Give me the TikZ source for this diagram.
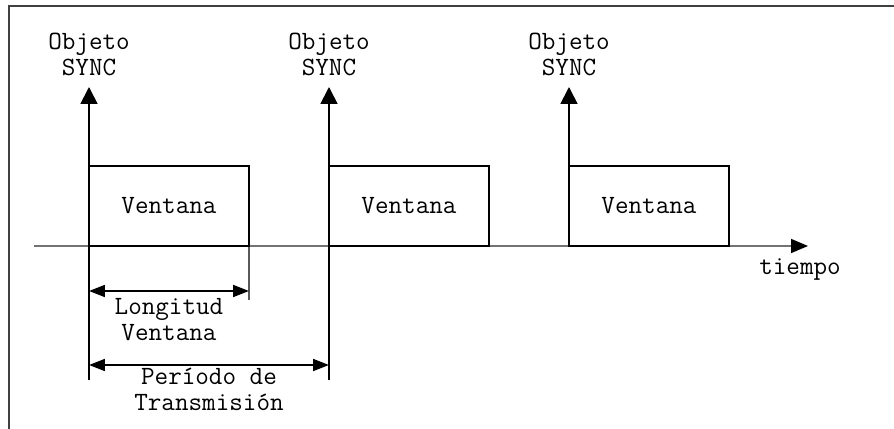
\documentclass[tikz,border=0pt]{standalone}
\usepackage{fontspec}
\usetikzlibrary{arrows.meta,positioning}

\begin{document}
\begin{tikzpicture}[x=0.02cm, y=-0.02cm,
        txt/.style={font=\ttfamily\fontsize{15}{14.8}\selectfont, align=center, inner sep=1pt},
        ventana/.style={draw, line width=0.8pt, minimum width=3.2cm, minimum height=1.6cm,
            anchor=south west, inner sep=0pt, outer sep=0pt, font=\ttfamily\fontsize{15}{14.8}\selectfont},
        sync/.style={line width=1pt, -{Triangle[length=0.34cm, width=0.34cm]}},
        cota/.style={line width=1pt, {Triangle[length=0.32cm, width=0.24cm]}-{Triangle[length=0.32cm, width=0.24cm]}},
        eje/.style={line width=1pt, black!55, -{Triangle[length=0.34cm, width=0.28cm, black]}}]
                \useasboundingbox (0,0) rectangle (894,429);

                % Draw the frame (top and left side only)
                \draw[line width=1.2pt, black!75] (9,429) -- (9,6) -- (894,6);

                % Draw the time axis
                \coordinate (e0) at (34,246);
                \coordinate (e1) at (808,246);
                \draw[eje] (e0) -- (e1);
                \node[txt] (tiempo) at (800,270) {tiempo};

                % Draw the windows
                \node[ventana] (v1) at (89,246) {Ventana};
                \node[ventana] (v2) at (329,246) {Ventana};
                \node[ventana] (v3) at (569,246) {Ventana};

                % Draw the SYNC arrows
                \coordinate (t1) at (89,87);
                \coordinate (t2) at (329,87);
                \coordinate (t3) at (569,87);
                \coordinate (b1) at (89,380);
                \coordinate (b2) at (329,380);
                \coordinate (b3) at (249,300);

                \draw[sync] (b1) -- (t1);
                \draw[sync] (b2) -- (t2);
                \draw[sync] (v3.south west) -- (t3);
                \draw[line width=0.8pt] (v1.south east) -- (b3);

                \node[txt, above=5pt of t1] (o1) {Objeto\\SYNC};
                \node[txt, above=5pt of t2] (o2) {Objeto\\SYNC};
                \node[txt, above=5pt of t3] (o3) {Objeto\\SYNC};

                % Draw the length of the window
                \coordinate (c1) at (89,291);
                \coordinate (c2) at (249,291);
                \draw[cota] (c1) -- (c2);
                \node[txt, below=3pt] (lv) at (169,291) {Longitud\\Ventana};

                % Draw the transmission period
                \coordinate (p1) at (89,365);
                \coordinate (p2) at (329,365);
                \draw[cota] (p1) -- (p2);
                \node[txt, below=0.5pt] (pt) at (209,365) {Período de\\Transmisión};
\end{tikzpicture}
\end{document}
